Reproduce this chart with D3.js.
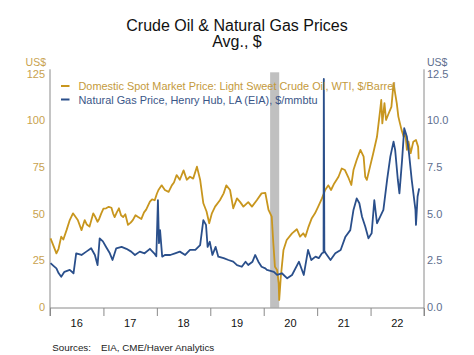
<!DOCTYPE html>
<html><head><meta charset="utf-8">
<script src="https://cdn.jsdelivr.net/npm/d3@7"></script>
<style>body{margin:0;background:#fff}svg{display:block;font-family:Arial,"Liberation Sans",sans-serif}</style>
</head><body><svg id="c" width="474" height="355"></svg>
<script>
// Oil (WTI $/barrel): time in decimal years, value
const oilT = [2016.01,2016.06,2016.12,2016.16,2016.21,2016.25,2016.31,2016.37,2016.43,2016.48,2016.52,2016.59,2016.65,2016.69,2016.74,2016.81,2016.84,2016.89,2016.92,2016.96,
2017.00,2017.05,2017.10,2017.15,2017.18,2017.21,2017.25,2017.29,2017.33,2017.37,2017.41,2017.46,2017.51,2017.55,2017.60,2017.65,2017.71,2017.76,2017.80,2017.87,2017.91,2017.96,
2018.00,2018.03,2018.09,2018.15,2018.22,2018.28,2018.32,2018.37,2018.43,2018.50,2018.56,2018.62,2018.68,2018.75,2018.81,2018.87,2018.93,2018.98,
2019.03,2019.09,2019.18,2019.25,2019.30,2019.37,2019.43,2019.50,2019.56,2019.62,2019.71,2019.78,2019.87,2019.96,
2020.03,2020.09,2020.15,2020.18,2020.21,2020.25,2020.28,2020.29,2020.32,2020.37,2020.43,2020.53,2020.62,2020.68,2020.74,2020.78,2020.84,2020.90,2020.96,
2021.02,2021.09,2021.15,2021.21,2021.26,2021.32,2021.40,2021.46,2021.52,2021.59,2021.64,2021.68,2021.74,2021.81,2021.87,2021.90,2021.93,2021.99,
2022.05,2022.12,2022.18,2022.20,2022.22,2022.26,2022.29,2022.34,2022.39,2022.43,2022.46,2022.49,2022.52,2022.55,2022.58,2022.62,2022.65,2022.68,2022.71,2022.75,2022.80,2022.85,2022.89,2022.90];
const oilV = [36.6,33,28.6,31,37.5,36,41,46.4,50,48,46.4,41,46.4,44,42.9,50,48.5,45.5,47,50,
52.5,52.7,53.5,53,50,48,50.5,52.7,49,48,49.5,43.8,45,46.4,49,48,47,50.5,52,56.3,57.5,57,
60.5,62.5,65,62.5,61.5,65,66.5,70.5,68,73,68,69.6,68.6,75,68,55.4,51,44.7,
50,53.6,57,60.7,65,62.5,52.7,58,56,53.6,56,53.6,57,60.7,
61,51.8,48.2,34,21.4,19.7,12.5,3.6,16,30.4,35.7,39.3,41.5,37.5,39.3,37.5,42.9,47.4,50,
53.6,58,62.5,65,62.5,66,69.6,74,73.2,68.8,65.2,73.2,78.6,84,80.4,69.6,67.9,75,
82.2,91,105.4,110.7,98.2,109,100,103.6,107,119.7,114.3,109,101.8,98.2,94.7,91,92.9,84,88.4,82.2,88.4,89.3,85.7,79];

// Natural gas (Henry Hub $/mmbtu)
const gasT = [2016.01,2016.06,2016.12,2016.16,2016.21,2016.27,2016.37,2016.44,2016.49,2016.59,2016.68,2016.77,2016.84,2016.89,2016.93,2016.99,
2017.05,2017.12,2017.17,2017.24,2017.34,2017.43,2017.52,2017.59,2017.68,2017.77,2017.87,2017.95,2017.99,
2018.02,2018.04,2018.06,2018.10,2018.15,2018.25,2018.34,2018.43,2018.53,2018.62,2018.72,2018.81,2018.87,2018.92,2018.95,2018.99,
2019.04,2019.10,2019.15,2019.25,2019.34,2019.43,2019.50,2019.59,2019.66,2019.71,2019.79,2019.84,2019.90,2019.96,
2020.03,2020.06,2020.19,2020.25,2020.34,2020.44,2020.53,2020.66,2020.75,2020.83,2020.89,2020.97,
2021.03,2021.09,2021.12,2021.125,2021.135,2021.16,2021.25,2021.34,2021.44,2021.53,2021.62,2021.68,2021.74,2021.79,2021.84,2021.90,2021.96,
2022.02,2022.07,2022.12,2022.18,2022.24,2022.31,2022.37,2022.43,2022.46,2022.51,2022.54,2022.59,2022.63,2022.68,2022.72,2022.77,2022.84,2022.85,2022.88,2022.91];
const gasV = [2.33,2.2,2.05,1.8,1.6,1.87,1.97,1.79,2.86,2.77,2.95,3.13,2.77,2.23,3.66,3.5,
3.2,2.86,2.5,3.13,3.2,3.1,2.95,2.77,2.95,2.86,3.1,2.86,2.7,
5.7,3.4,4.1,2.68,2.77,2.77,2.86,2.95,2.77,3.04,3.04,3.3,4.64,4.38,3.2,3.48,
2.77,3.2,2.68,2.6,2.5,2.41,2.23,2.14,2.41,2.23,2.41,2.77,2.41,2.14,
2.05,1.97,1.87,1.7,1.79,1.52,1.7,2.41,1.7,3.04,2.5,2.68,
2.6,2.86,2.9,12.2,3.0,2.86,2.5,2.86,3.04,3.75,4.1,5.18,5.8,5.54,4.82,4.29,3.66,
3.93,5.7,4.47,4.82,5.18,6.8,8.04,8.84,8.4,6.8,6.07,7.86,9.56,9.1,8.2,6.8,5.18,4.38,5.9,6.34];

const yearTicks = [2016,2017,2018,2019,2020,2021,2022,2023];
const yearLabels = ["16","17","18","19","20","21","22"];
const leftTicks = [0,25,50,75,100,125];
const rightTicks = [0,2.5,5,7.5,10,12.5];
const recession = [2020.12,2020.29];
const seriesNames = ["Domestic Spot Market Price: Light Sweet Crude Oil, WTI, $/Barrel","Natural Gas Price, Henry Hub, LA (EIA), $/mmbtu"];

const OIL="#C8961E", GAS="#2A4F8B";
const svg = d3.select("#c");
const L=50, R=424, T=73.3, B=306.7;
const x = d3.scaleLinear().domain([2016,2023]).range([L,R]);
const yL = d3.scaleLinear().domain([0,125]).range([B,T]);
const yR = d3.scaleLinear().domain([0,12.5]).range([B,T]);

svg.append("rect").attr("x",x(recession[0])).attr("width",x(recession[1])-x(recession[0]))
  .attr("y",T-1).attr("height",B-T+2).attr("fill","#c0c0c0");

// titles
svg.append("text").attr("x",237).attr("y",30.5).attr("text-anchor","middle").attr("font-size",16).attr("fill","#111").text("Crude Oil & Natural Gas Prices");
svg.append("text").attr("x",237).attr("y",46.5).attr("text-anchor","middle").attr("font-size",16).attr("fill","#111").text("Avg., $");

// left axis
const gl = svg.append("g").attr("transform",`translate(${L},0)`)
  .call(d3.axisLeft(yL).tickValues(leftTicks).tickSize(0).tickPadding(5).tickFormat(d3.format("d")));
gl.select(".domain").attr("stroke","#8a8a8a").attr("d",`M0,${T-4}V316`);
gl.selectAll("text").attr("fill","#C8A24E").attr("font-size",11).attr("font-family","Arial,'Liberation Sans'").attr("dy","0.36em");
svg.append("text").attr("x",46).attr("y",66).attr("text-anchor","end").attr("font-size",10.5).attr("fill","#C8A24E").text("US$");

// right axis
const gr = svg.append("g").attr("transform",`translate(${R},0)`)
  .call(d3.axisRight(yR).tickValues(rightTicks).tickSize(0).tickPadding(3).tickFormat(d3.format(".1f")));
gr.select(".domain").attr("stroke","#8a8a8a").attr("d",`M0,${T-4}V316`);
gr.selectAll("text").attr("fill","#5E6E8E").attr("font-size",11).attr("font-family","Arial,'Liberation Sans'").attr("dy","0.36em");
svg.append("text").attr("x",427).attr("y",66).attr("text-anchor","start").attr("font-size",10.5).attr("fill","#5E6E8E").text("US$");

// x axis
const gx = svg.append("g").attr("transform",`translate(0,${B+1.3})`)
  .call(d3.axisBottom(x).tickValues(yearTicks).tickSize(8).tickFormat(""));
gx.select(".domain").attr("stroke","#8a8a8a").attr("d",`M${L},0H${R}`);
gx.selectAll(".tick line").attr("stroke","#8a8a8a");
svg.append("g").selectAll("text").data(yearLabels).join("text")
  .attr("x",(d,i)=>x(yearTicks[i]+0.5)).attr("y",327).attr("text-anchor","middle")
  .attr("font-size",11).attr("fill","#111").text(d=>d);

// lines
const oilLine = d3.line().x((d,i)=>x(oilT[i])).y(d=>yL(d));
const gasLine = d3.line().x((d,i)=>x(gasT[i])).y(d=>yR(d));
svg.append("path").attr("d",oilLine(oilV)).attr("fill","none").attr("stroke",OIL).attr("stroke-width",1.8).attr("stroke-linejoin","round");
svg.append("path").attr("d",gasLine(gasV)).attr("fill","none").attr("stroke",GAS).attr("stroke-width",1.8).attr("stroke-linejoin","round");

// legend
const lg = svg.append("g");
[[OIL,"#C49A3C"],[GAS,"#3A5688"]].forEach((c,i)=>{
  const yy = 86+i*13.5;
  lg.append("line").attr("x1",61).attr("x2",69.5).attr("y1",yy).attr("y2",yy).attr("stroke",c[0]).attr("stroke-width",2);
  lg.append("text").attr("x",78.5).attr("y",yy+4).attr("font-size",10.9).attr("fill",c[1]).text(seriesNames[i]);
});

svg.append("text").attr("x",52.3).attr("y",351).attr("font-size",9.8).attr("fill","#222").text("Sources:");
svg.append("text").attr("x",101).attr("y",351).attr("font-size",9.8).attr("fill","#222").text("EIA, CME/Haver Analytics");
</script></body></html>
